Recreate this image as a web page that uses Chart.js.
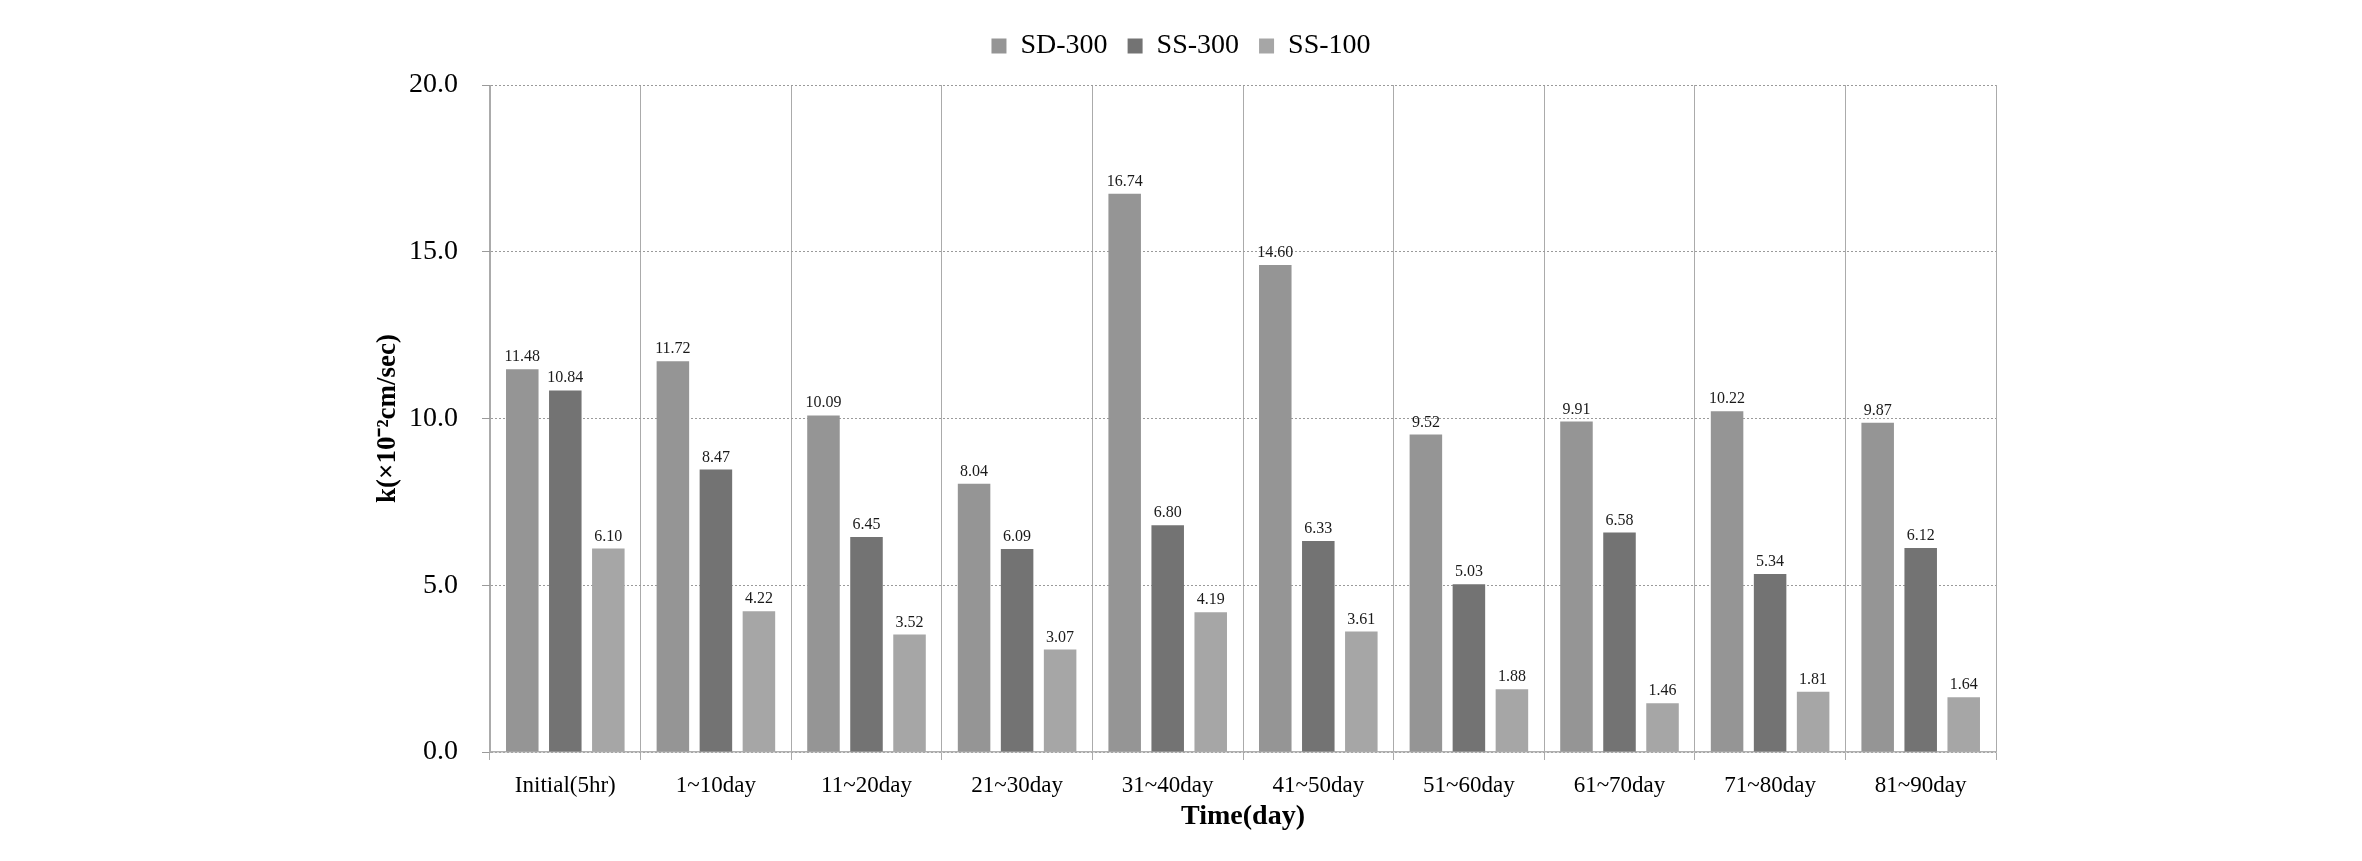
<!DOCTYPE html>
<html>
<head>
<meta charset="utf-8">
<script src="https://cdn.jsdelivr.net/npm/chart.js@4.4.1/dist/chart.umd.min.js"></script>
<style>
  html, body { margin: 0; padding: 0; background: #ffffff; }
  #wrap { width: 2362px; height: 861px; position: relative; }
</style>
</head>
<body>
<div id="wrap"><canvas id="c" width="2362" height="861"></canvas></div>
<script>
const categories = ["Initial(5hr)", "1~10day", "11~20day", "21~30day", "31~40day", "41~50day", "51~60day", "61~70day", "71~80day", "81~90day"];
const seriesNames = ["SD-300", "SS-300", "SS-100"];
const sd300 = [11.48, 11.72, 10.09, 8.04, 16.74, 14.60, 9.52, 9.91, 10.22, 9.87];
const ss300 = [10.84, 8.47, 6.45, 6.09, 6.80, 6.33, 5.03, 6.58, 5.34, 6.12];
const ss100 = [6.10, 4.22, 3.52, 3.07, 4.19, 3.61, 1.88, 1.46, 1.81, 1.64];
const yTicks = [0, 5, 10, 15, 20];
const yTitle = "k(×10⁻²cm/sec)";
const xTitle = "Time(day)";

const FONT = "'Liberation Serif', 'Times New Roman', serif";
const colors = ["#959595", "#737373", "#a6a6a6"];

const valueLabels = {
  id: 'valueLabels',
  afterDatasetsDraw(chart) {
    const ctx = chart.ctx;
    ctx.save();
    ctx.font = "16px " + FONT;
    ctx.fillStyle = "#1a1a1a";
    ctx.textAlign = "center";
    ctx.textBaseline = "alphabetic";
    chart.data.datasets.forEach((ds, i) => {
      chart.getDatasetMeta(i).data.forEach((bar, j) => {
        ctx.fillText(ds.data[j].toFixed(2), bar.x, bar.y - 8);
      });
    });
    ctx.restore();
  }
};

const seriesData = [sd300, ss300, ss100];

new Chart(document.getElementById('c'), {
  type: 'bar',
  data: {
    labels: categories,
    datasets: seriesNames.map((name, i) => ({
      label: name,
      data: seriesData[i],
      backgroundColor: colors[i],
      borderWidth: 0,
      categoryPercentage: 0.857,
      barPercentage: 0.756
    }))
  },
  options: {
    responsive: false,
    animation: false,
    layout: { padding: { left: 0, right: 0, top: 12, bottom: 0 } },
    plugins: {
      legend: {
        position: 'top',
        align: 'center',
        labels: {
          font: { family: FONT, size: 28 },
          color: '#000',
          boxWidth: 15,
          boxHeight: 15,
          padding: 20
        }
      },
      tooltip: { enabled: false }
    },
    scales: {
      x: {
        position: 'bottom',
        grid: {
          display: true,
          offset: true,
          color: '#ababab',
          lineWidth: 1,
          drawTicks: true,
          tickLength: 8,
          tickColor: '#ababab'
        },
        border: { display: true, color: '#b0b0b0', width: 1.5 },
        ticks: {
          font: { family: FONT, size: 23 },
          color: '#000',
          padding: 12,
          maxRotation: 0,
          autoSkip: false
        },
        title: {
          display: true,
          text: xTitle,
          font: { family: FONT, size: 28, weight: 'bold' },
          color: '#000',
          padding: { top: 0, bottom: 27 }
        },
        afterFit(scale) { scale.height = 109; }
      },
      topSpacer: {
        type: 'category',
        position: 'top',
        display: true,
        grid: { display: false, drawTicks: false },
        border: { display: false },
        ticks: { display: false },
        title: { display: false },
        afterFit(scale) { scale.height = 15; }
      },
      y: {
        position: 'left',
        min: 0,
        max: 20,
        afterBuildTicks(scale) { scale.ticks = yTicks.map(v => ({ value: v })); },
        grid: {
          display: true,
          color: '#9a9a9a',
          lineWidth: 1,
          drawTicks: true,
          tickLength: 8,
          tickColor: '#9a9a9a',
          tickBorderDash: []
        },
        border: { display: true, color: '#ababab', width: 1, dash: [2, 2] },
        ticks: {
          font: { family: FONT, size: 28 },
          color: '#000',
          padding: 24,
          callback: (v) => Number(v).toFixed(1)
        },
        title: {
          display: true,
          text: yTitle,
          font: { family: FONT, size: 27, weight: 'bold' },
          color: '#000',
          padding: { top: 372, bottom: 0 }
        },
        afterFit(scale) { scale.width = 490; }
      },
      spacer: {
        type: 'linear',
        position: 'right',
        display: true,
        grid: { display: false, drawTicks: false },
        border: { display: false },
        ticks: { display: false },
        title: { display: false },
        afterFit(scale) { scale.width = 366; }
      }
    }
  },
  plugins: [valueLabels]
});
</script>
</body>
</html>
